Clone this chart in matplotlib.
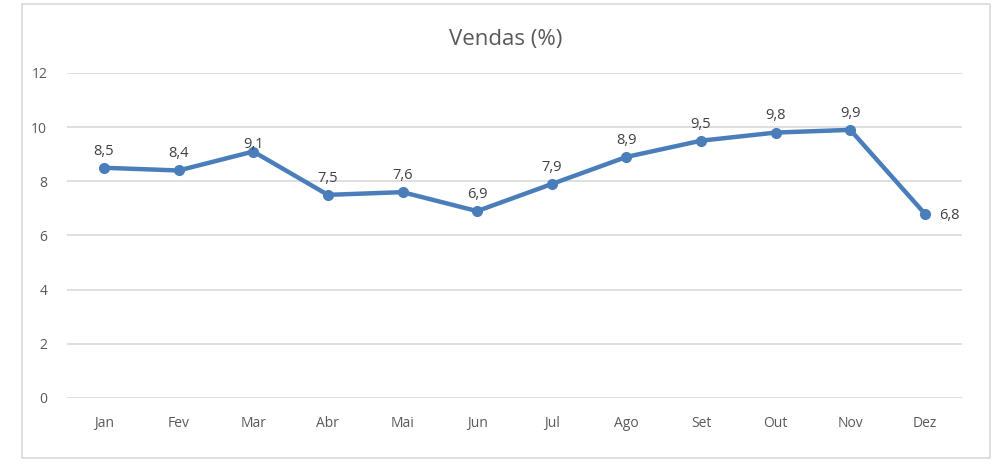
import matplotlib.pyplot as plt
from matplotlib.patches import Rectangle

meses = ["Jan", "Fev", "Mar", "Abr", "Mai", "Jun", "Jul", "Ago", "Set", "Out", "Nov", "Dez"]
vendas = [8.5, 8.4, 9.1, 7.5, 7.6, 6.9, 7.9, 8.9, 9.5, 9.8, 9.9, 6.8]
yticks = [0, 2, 4, 6, 8, 10, 12]

plt.rcParams['font.family'] = ['Open Sans', 'DejaVu Sans']

fig = plt.figure(figsize=(10.04, 4.67), dpi=100)
# outer chart border (Excel style)
fig.patches.append(Rectangle((22 / 1004, 1 - 458 / 467), 968 / 1004, 454 / 467,
                             transform=fig.transFigure, fill=False,
                             edgecolor="#d9d9d9", linewidth=1.2))

ax = fig.add_axes([0.0664, 0.1478, 0.892, 0.6959])
x = list(range(len(meses)))
cor = "#4a7ebb"
ax.plot(x, vendas, color=cor, linewidth=3.2, marker="o", markersize=7, zorder=3)

for i, v in enumerate(vendas):
    txt = f"{v:.1f}".replace(".", ",")
    if i == len(vendas) - 1:
        ax.annotate(txt, (i, v), xytext=(10, -1), textcoords="offset points",
                    ha="left", va="center", fontsize=10.5, color="#404040")
    elif meses[i] == "Mar":
        ax.annotate(txt, (i, v), xytext=(0, 5), textcoords="offset points",
                    ha="center", va="center", fontsize=10.5, color="#404040")
    else:
        ax.annotate(txt, (i, v), xytext=(0, 12), textcoords="offset points",
                    ha="center", va="center", fontsize=10.5, color="#404040")

ax.set_xlim(-0.5, len(meses) - 0.5)
ax.set_ylim(0, 12)
ax.set_yticks(yticks)
ax.set_xticks(x)
ax.set_xticklabels(meses)
ax.tick_params(axis="both", length=0, labelsize=10, labelcolor="#595959")
ax.tick_params(axis="x", pad=13)
ax.tick_params(axis="y", pad=14)
ax.grid(axis="y", color="#d9d9d9", linewidth=1.2)
ax.set_axisbelow(True)
for s in ax.spines.values():
    s.set_visible(False)

fig.text(506 / 1004, 1 - 39 / 467, "Vendas (%)", ha="center", va="center",
         fontsize=16, color="#595959")

fig.savefig("out.png", dpi=100)
